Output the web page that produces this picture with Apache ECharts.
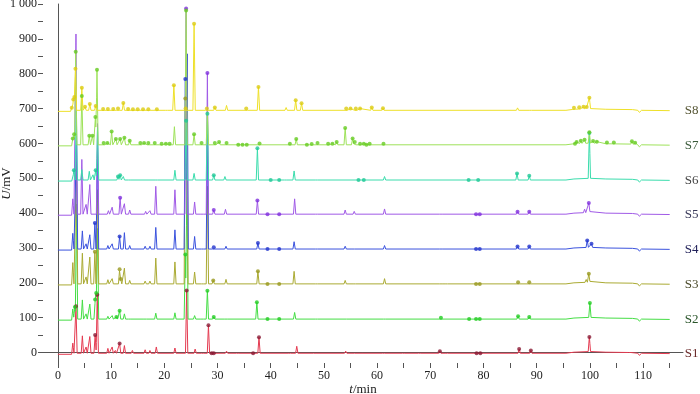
<!DOCTYPE html>
<html>
<head>
  <meta charset="utf-8"/>
  <title>S1-S8 色谱叠加图</title>
  <script src="https://cdn.jsdelivr.net/npm/echarts@6/dist/echarts.min.js"></script>
  <style>
    html, body { margin: 0; padding: 0; background: #fff; }
    #main { width: 700px; height: 394px; }
  </style>
</head>
<body>
<div id="main"></div>
<script type="text/javascript">
// sample names, bottom to top
var sampleNames = ['S1', 'S2', 'S3', 'S4', 'S5', 'S6', 'S7', 'S8'];
// baseline level of each trace (mV)
var baseLevels = [-2, 96, 197, 297, 397, 495, 596, 695];
// baseline drift shared by all traces: [t/min, offset mV]
var baseShape = [[0, -3], [2.6, -3], [2.9, 0], [95.5, 0], [97, 3], [100, 5], [103, 3], [108, 2],
  [109, 0], [109.3, -6], [109.7, 0], [115, -1]];

// peaks: [t/min, height above baseline mV]
var s1Peaks = [[2.8, 30], [3.4, 135], [4.6, 50], [5.3, 18], [6.0, 48], [7.0, 52], [7.4, 168], [9.4, 14], [10.2, 18],
  [10.8, 8], [11.6, 28], [12.5, 22], [14.0, 8], [16.4, 10], [17.3, 8], [18.5, 18], [22.0, 15], [24.2, 180], [25.8, 12],
  [27.2, 5], [28.3, 80], [31.7, 6], [33.8, 4], [37.8, 46], [43.5, 4], [44.9, 20], [48.3, 3], [54.1, 6], [56, 3],
  [61.2, 3], [65, 3], [68, 3], [71.8, 6], [73, 4], [86.7, 12], [88.9, 8], [99.9, 42], [107.5, 4]];
var s2Peaks = [[2.8, 30], [3.2, 35], [3.5, 330], [4.6, 55], [5.3, 15], [6.0, 43], [7.0, 50], [7.2, 70], [7.45, 260],
  [9.4, 8], [10.2, 10], [11.0, 6], [11.6, 24], [12.5, 15], [13.5, 5], [16.4, 5], [18.4, 17], [22.0, 18], [23.95, 185],
  [24.25, 420], [25.7, 10], [27.1, 4], [28.1, 81], [29.3, 6], [31.6, 5], [37.4, 48], [44.5, 19], [48.6, 3], [54, 5],
  [61.4, 4], [72, 4], [86.5, 8], [88.6, 6], [100, 41]];
var s3Peaks = [[2.8, 62], [3.5, 350], [4.6, 88], [5.3, 20], [6.0, 77], [6.95, 92], [7.45, 270], [9.4, 12], [10.2, 15],
  [11.6, 41], [11.8, 10], [12.5, 45], [13.5, 10], [16.4, 8], [17.3, 8], [18.4, 74], [22.0, 63], [23.95, 532],
  [24.25, 660], [25.7, 34], [27.2, 5], [28.1, 280], [29.2, 10], [31.6, 13], [37.6, 36], [44.4, 36], [48.6, 5],
  [54, 10], [55.7, 5], [61.4, 15], [72, 5], [73, 4], [86.5, 5], [88.6, 5], [99.3, 8], [99.8, 24]];
var s4Peaks = [[2.8, 46], [3.5, 310], [4.6, 52], [5.3, 15], [6.0, 41], [6.95, 75], [7.45, 290], [9.4, 10], [10.2, 15],
  [11.6, 36], [12.5, 47], [13.5, 10], [16.4, 8], [17.3, 8], [18.4, 62], [22.0, 55], [23.95, 488], [24.3, 560],
  [25.7, 36], [27.2, 5], [28.1, 330], [29.3, 5], [31.6, 8], [37.6, 17], [44.4, 21], [48.6, 4], [54, 8], [55.5, 5],
  [61.4, 10], [72, 4], [86.4, 7], [88.6, 7], [99.5, 20], [100.3, 10]];
var s5Peaks = [[2.8, 45], [3.4, 517], [4.5, 157], [5.3, 28], [6.0, 85], [7.45, 260], [9.5, 10], [10.2, 20], [11.7, 47],
  [12.5, 30], [13.5, 12], [16.5, 8], [17.3, 10], [18.4, 80], [22.0, 70], [24.1, 590], [25.7, 35], [27.1, 5],
  [28.1, 405], [29.3, 12], [31.5, 14], [37.5, 39], [44.5, 44], [48.6, 5], [54, 12], [55.7, 8], [61.4, 15], [72, 5],
  [86.4, 7], [88.6, 7], [99, 10], [99.8, 27]];
var s6Peaks = [[3.0, 28], [3.45, 200], [4.5, 30], [5.9, 25], [6.6, 15], [7.1, 28], [7.45, 150], [11.3, 10], [11.7, 14],
  [12.3, 10], [13.5, 5], [18.5, 5], [22.0, 28], [24.1, 170], [25.6, 19], [28.1, 190], [29.3, 14], [31.4, 10],
  [37.5, 91], [42.8, 3], [44.4, 26], [48.6, 3], [61.4, 10], [86.3, 19], [88.6, 12], [99.9, 130]];
var s7Peaks = [[2.8, 19], [3.05, 30], [3.35, 267], [4.5, 140], [5.9, 26], [6.5, 26], [7.05, 80], [7.35, 215], [8.6, 5],
  [9.3, 5], [10.1, 38], [10.9, 17], [11.7, 17], [12.5, 20], [13.5, 12], [15.5, 5], [16.2, 5], [17, 5], [18.2, 5],
  [19.5, 3], [20.3, 3], [21, 3], [21.9, 52], [24.1, 385], [25.6, 30], [27, 5], [28.1, 95], [29.5, 5], [30.3, 8],
  [31.7, 5], [37.9, 4], [43.6, 3], [44.8, 17], [47.7, 2], [48.8, 5], [50.8, 3], [51.6, 3], [52.4, 8], [54, 48],
  [55.4, 18], [55.8, 8], [56.8, 3], [57.5, 3], [58.6, 3], [61.2, 3], [97.5, 5], [98.3, 8], [99, 10], [99.9, 31],
  [100.6, 6], [101.3, 5], [103.2, 4], [104.5, 4], [107.9, 8], [108.5, 5]];
var s8Peaks = [[2.6, 10], [2.9, 29], [3.1, 25], [3.3, 117], [4.5, 65], [5.1, 10], [6.0, 18], [7.1, 12], [8.5, 4],
  [9.4, 4], [10.4, 4], [11.3, 5], [12.3, 21], [13.2, 4], [14.1, 3], [15, 3], [16, 3], [17, 3], [18.6, 3], [20.4, 4],
  [21.8, 72], [24.0, 5], [25.6, 248], [28.0, 5], [29.5, 8], [31.7, 14], [35.4, 5], [37.7, 67], [42.9, 8], [44.7, 29],
  [45.8, 20], [54.2, 5], [55, 5], [56, 5], [56.8, 5], [59, 8], [61.1, 6], [86.4, 7], [88.8, 5], [97, 4], [98, 5],
  [98.8, 6], [99.4, 5], [99.9, 31]];

// times (min) of the peaks marked by the integrator
var s1Marks = [3.4, 7.0, 7.4, 11.6, 24.2, 28.3, 28.9, 29.3, 36.7, 37.8, 71.8, 78.7, 79.4, 86.7, 88.9, 99.9];
var s2Marks = [3.2, 7.0, 7.2, 11.0, 11.6, 23.95, 28.1, 29.3, 37.4, 39.4, 41.6, 72, 77.3, 78.6, 79.3, 86.5, 88.6, 100];
var s3Marks = [6.95, 11.6, 11.8, 23.95, 29.2, 37.6, 39.4, 41.6, 78.6, 79.3, 86.5, 88.6, 99.8];
var s4Marks = [6.95, 11.6, 23.95, 29.3, 37.6, 39.4, 41.6, 78.6, 79.3, 86.4, 88.6, 99.5, 100.3];
var s5Marks = [11.7, 24.1, 28.1, 29.3, 37.5, 39.4, 41.6, 78.6, 79.3, 86.4, 88.6, 99.8];
var s6Marks = [3.0, 7.1, 11.3, 11.7, 24.1, 28.1, 29.3, 37.5, 40, 41.6, 56.5, 57.5, 77.2, 79, 86.3, 88.6, 99.9];
var s7Marks = [2.8, 3.05, 3.35, 4.5, 5.9, 6.5, 7.05, 7.35, 8.6, 9.3, 10.1, 10.9, 11.7, 12.5, 13.5, 15.5, 16.2, 17,
  18.2, 19.5, 20.3, 21, 24.1, 25.6, 27, 29.5, 30.3, 31.7, 33.9, 34.7, 35.5, 37.9, 43.6, 44.8, 46.8, 47.7, 48.8,
  50.8, 51.6, 52.4, 54, 55.4, 55.8, 56.8, 57.5, 58, 58.6, 61.2, 97.2, 97.5, 98.3, 99, 99.9, 100.6, 101.3, 103.2,
  104.5, 107.9, 108.5];
var s8Marks = [2.6, 2.9, 3.1, 3.3, 4.5, 5.1, 6.0, 7.1, 8.5, 9.4, 10.4, 11.3, 12.3, 13.2, 14.1, 15, 16, 17, 18.6,
  21.8, 24.0, 25.6, 28.0, 29.5, 35.4, 37.7, 44.7, 45.8, 54.2, 55, 56, 56.8, 59, 61.1, 97, 98, 98.8, 99.4, 99.9];

// axis ranges: plotted window and the span that carries ticks
var xRange = [-2.8, 117.5];
var yRange = [-30, 1000];
var xTickRange = [0, 115];   // ticks every 5 min, labels every 10
var yTickRange = [0, 1000];  // ticks every 50 mV, labels every 100

var allPeaks = [s1Peaks, s2Peaks, s3Peaks, s4Peaks, s5Peaks, s6Peaks, s7Peaks, s8Peaks];
var allMarks = [s1Marks, s2Marks, s3Marks, s4Marks, s5Marks, s6Marks, s7Marks, s8Marks];

var lineColors = ['#e43a50', '#44dd44', '#aaaa33', '#3a52dd', '#a05ae6', '#3adcac', '#9ee25a', '#eee028'];
var markColors = ['#8a1a34', '#22cc22', '#99991e', '#2233cc', '#8030dd', '#1ec896', '#66cc22', '#dccc10'];
var nameColors = ['#6a2a2a', '#2a552a', '#4a4a2a', '#22225a', '#3a3a5a', '#444444', '#3a5a3a', '#555533'];
var peakHalfWidth = 0.22;

function baseAt(t){
  for (var i = 1; i < baseShape.length; i++) {
    var a = baseShape[i - 1], b = baseShape[i];
    if (t <= b[0]) {
      return a[1] + (b[1] - a[1]) * (t - a[0]) / (b[0] - a[0]);
    }
  }
  return baseShape[baseShape.length - 1][1];
}

function signalAt(level, peaks, t){
  var v = level + baseAt(t);
  peaks.forEach(function(p){
    var d = Math.abs(t - p[0]);
    if (d < peakHalfWidth) v += p[1] * (1 - d / peakHalfWidth);
  });
  return v;
}

function buildLine(level, peaks){
  var xs = baseShape.map(function(b){ return b[0]; });
  peaks.forEach(function(p){
    xs.push(p[0] - peakHalfWidth, p[0], p[0] + peakHalfWidth);
  });
  xs = xs.filter(function(x){ return x >= 0 && x <= 115; });
  xs.sort(function(a, b){ return a - b; });
  var out = [];
  xs.forEach(function(x){
    if (out.length && Math.abs(out[out.length - 1][0] - x) < 1e-6) return;
    out.push([x, +signalAt(level, peaks, x).toFixed(2)]);
  });
  return out;
}

var series = [];
sampleNames.forEach(function(name, i){
  series.push({
    name: name,
    type: 'line',
    data: buildLine(baseLevels[i], allPeaks[i]),
    showSymbol: false,
    lineStyle: { color: lineColors[i], width: 1 },
    endLabel: {
      show: true,
      formatter: name,
      distance: 15,
      color: nameColors[i],
      fontFamily: 'Liberation Serif',
      fontSize: 13
    },
    z: 2
  });
  series.push({
    name: name + ' marks',
    type: 'scatter',
    data: allMarks[i].map(function(t){ return [t, signalAt(baseLevels[i], allPeaks[i], t)]; }),
    symbol: 'circle',
    symbolSize: 4,
    itemStyle: { color: markColors[i] },
    z: 3
  });
});

// main plot box (px)
var W = 700, H = 394;
var box = { left: 43, right: 17, top: 4, bottom: 31 };
var plotW = W - box.left - box.right, plotH = H - box.top - box.bottom;
// pixel edges of the tick spans, so the tick axes line up with the data axes
var tickLeft = box.left + plotW * (xTickRange[0] - xRange[0]) / (xRange[1] - xRange[0]);
var tickRight = W - (box.left + plotW * (xTickRange[1] - xRange[0]) / (xRange[1] - xRange[0]));
var tickBottom = H - (box.top + plotH * (yRange[1] - yTickRange[0]) / (yRange[1] - yRange[0]));

var axisFont = { fontFamily: 'Liberation Serif', fontSize: 12, color: '#222' };
var nameStyle = {
  fontFamily: 'Liberation Serif', fontSize: 13, color: '#222',
  rich: { i: { fontFamily: 'Liberation Serif', fontStyle: 'italic', fontSize: 13, color: '#222' } }
};
var tickStyle = { show: true, length: 5, lineStyle: { color: '#555', width: 1 } };

var option = {
  animation: false,
  grid: [
    { left: box.left, right: box.right, top: box.top, bottom: box.bottom, outerBoundsMode: 'none' },
    { left: tickLeft, right: tickRight, top: box.top, bottom: box.bottom, outerBoundsMode: 'none' },
    { left: box.left, right: box.right, top: box.top, bottom: tickBottom, outerBoundsMode: 'none' }
  ],
  xAxis: [
    {
      gridIndex: 0, type: 'value', min: xRange[0], max: xRange[1],
      name: '{i|t}/min', nameLocation: 'middle', nameGap: 20, nameTextStyle: nameStyle,
      splitLine: { show: false },
      axisLine: { show: true, lineStyle: { color: '#555' } },
      axisTick: { show: false }, axisLabel: { show: false }
    },
    {
      gridIndex: 1, type: 'value', min: xTickRange[0], max: xTickRange[1], interval: 5,
      splitLine: { show: false }, axisLine: { show: false },
      axisTick: tickStyle,
      axisLabel: Object.assign({
        margin: 7,
        formatter: function(v){ return v % 10 ? '' : String(v); }
      }, axisFont)
    },
    { gridIndex: 2, type: 'value', min: 0, max: 1, show: false }
  ],
  yAxis: [
    {
      gridIndex: 0, type: 'value', min: yRange[0], max: yRange[1],
      name: '{i|U}/mV', nameLocation: 'middle', nameRotate: 90, nameGap: 30, nameTextStyle: nameStyle,
      splitLine: { show: false },
      axisLine: { show: true, lineStyle: { color: '#555' } },
      axisTick: { show: false }, axisLabel: { show: false }
    },
    { gridIndex: 1, type: 'value', min: 0, max: 1, show: false },
    {
      gridIndex: 2, type: 'value', min: yTickRange[0], max: yTickRange[1], interval: 50,
      splitLine: { show: false }, axisLine: { show: false },
      axisTick: tickStyle,
      axisLabel: Object.assign({
        margin: 6,
        formatter: function(v){ return v % 100 ? '' : (v === 1000 ? '1 000' : String(v)); }
      }, axisFont)
    }
  ],
  series: series
};

var chart = echarts.init(document.getElementById('main'), null, { renderer: 'canvas' });
chart.setOption(option);
</script>
</body>
</html>
